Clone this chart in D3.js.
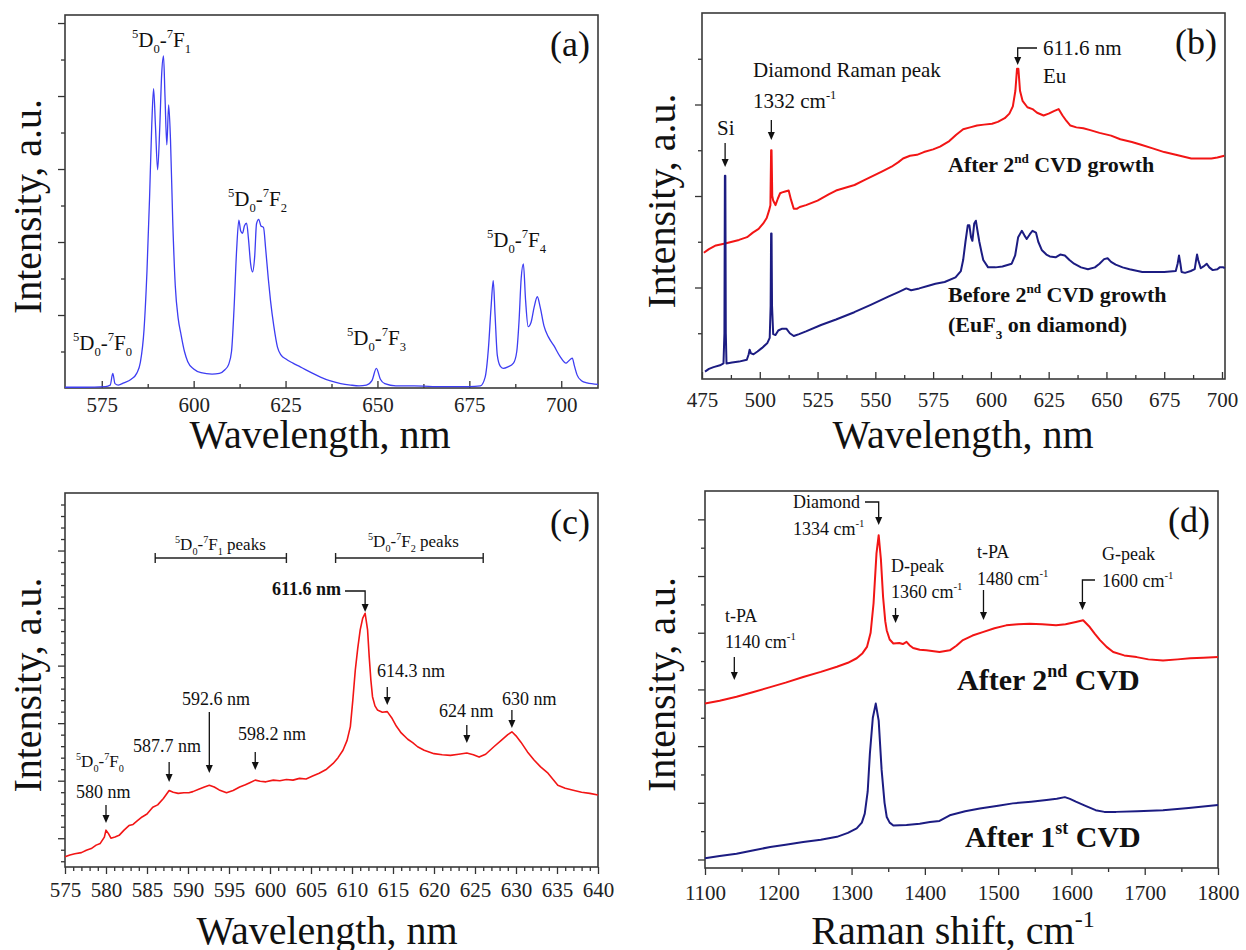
<!DOCTYPE html>
<html>
<head>
<meta charset="utf-8">
<script src="https://cdn.jsdelivr.net/npm/d3@7"></script>
<style>
  body { margin: 0; background: #fff; }
  text { white-space: pre; }
</style>
</head>
<body>
<svg id="chart" width="1246" height="950"></svg>
<script>
// Eu luminescence / Raman figure, four panels

// (a) EuF3 PL spectrum
const aWave = [565, 570, 576, 577.3, 578, 578.6, 579.5, 581, 583, 584.5, 585.5, 586.5, 587.3, 588, 588.6, 589.1, 589.6, 590.2, 590.8, 591.3, 591.8, 592.2, 592.7, 593.2, 593.7, 594.3, 595, 595.8, 596.5, 597.5, 598.4, 600, 602, 605, 607, 608.5, 609.5, 610.3, 611, 611.7, 612.3, 612.8, 613.3, 613.8, 614.4, 614.9, 615.5, 616, 616.6, 617.1, 617.7, 618.3, 619, 619.6, 620.3, 620.9, 621.8, 622.8, 623.8, 625, 627, 629, 632, 634.5, 637, 640, 642.7, 645, 647, 648.5, 649.7, 650.8, 652, 655, 660, 665, 670, 675, 678, 679.3, 680.2, 680.9, 681.5, 682, 682.6, 683.4, 684.2, 685.5, 687, 687.9, 688.5, 689.1, 689.7, 690.3, 691, 691.8, 692.6, 693.5, 694.3, 695.3, 696.5, 698, 699.7, 701.3, 702, 703, 703.6, 704.3, 705.5, 707, 710];
const aInt = [0.01, 0.01, 0.02, 0.04, 0.2, 0.06, 0.04, 0.07, 0.12, 0.2, 0.35, 0.8, 1.6, 2.6, 3.6, 4.1, 3.6, 2.99, 3.6, 4.3, 4.55, 4.0, 3.33, 3.88, 3.4, 2.3, 1.4, 0.95, 0.75, 0.5, 0.36, 0.26, 0.21, 0.19, 0.2, 0.25, 0.32, 0.5, 1.1, 1.9, 2.3, 2.15, 2.12, 2.22, 2.26, 2.05, 1.7, 1.59, 1.8, 2.25, 2.31, 2.22, 2.2, 1.9, 1.5, 1.2, 0.85, 0.56, 0.45, 0.4, 0.34, 0.29, 0.21, 0.15, 0.1, 0.06, 0.04, 0.03, 0.04, 0.1, 0.27, 0.12, 0.06, 0.03, 0.03, 0.02, 0.02, 0.02, 0.03, 0.15, 0.55, 1.1, 1.47, 1.0, 0.45, 0.3, 0.27, 0.29, 0.34, 0.5, 0.9, 1.5, 1.7, 1.2, 0.84, 0.9, 1.1, 1.25, 1.1, 0.85, 0.7, 0.58, 0.43, 0.34, 0.37, 0.41, 0.3, 0.18, 0.1, 0.07, 0.05];

// (b) after 2nd CVD growth (red)
const bAfterWave = [475.8, 478, 481, 485, 488, 491, 494.5, 497, 499.5, 501.5, 503, 504, 504.6, 504.9, 505.1, 505.4, 505.8, 506.8, 507.8, 508.8, 509.7, 511, 512.5, 513.5, 514.7, 516, 517.3, 520, 525, 530, 533, 537, 541, 545, 549, 553, 557, 560, 562, 565, 568, 571, 575, 578, 582, 585, 588, 591, 594, 597, 600.5, 603, 606, 608, 609.5, 610.6, 611.3, 611.9, 612.6, 613.7, 615.8, 618, 620, 622.8, 625, 627.5, 629.3, 631, 632.7, 634.4, 637, 640, 643, 647, 652, 656, 661, 665, 670, 675, 680, 686.7, 690, 695.4, 698, 701];
const bAfterInt = [1.38, 1.42, 1.46, 1.48, 1.5, 1.52, 1.55, 1.6, 1.64, 1.7, 1.76, 1.84, 1.9, 2.5, 2.5, 2.0, 1.95, 1.9, 1.97, 2.03, 2.04, 2.05, 2.06, 1.96, 1.86, 1.86, 1.88, 1.9, 1.95, 2.02, 2.06, 2.09, 2.12, 2.17, 2.22, 2.27, 2.32, 2.37, 2.41, 2.44, 2.45, 2.48, 2.51, 2.54, 2.6, 2.67, 2.73, 2.75, 2.77, 2.78, 2.79, 2.81, 2.85, 2.9, 2.98, 3.15, 3.39, 3.39, 3.15, 3.04, 2.97, 2.95, 2.91, 2.88, 2.9, 2.93, 2.95, 2.88, 2.82, 2.77, 2.75, 2.74, 2.72, 2.69, 2.66, 2.62, 2.59, 2.56, 2.52, 2.48, 2.45, 2.41, 2.41, 2.41, 2.42, 2.44];

// (b) before 2nd CVD growth, EuF3 on diamond (navy)
const bBeforeWave = [476.3, 478, 480, 482.8, 484.3, 484.7, 484.9, 485.1, 485.3, 485.6, 488, 491, 494.4, 495.2, 495.6, 496.2, 497.3, 499, 501, 503.2, 504.3, 504.7, 504.9, 505.1, 505.3, 505.8, 506.8, 508, 509.7, 511.5, 513, 514.7, 517, 520, 526.5, 533, 540.9, 548, 555.6, 560, 563.4, 565.5, 569, 573, 576, 580, 584.7, 587, 588, 589, 590, 590.7, 591.4, 592, 592.8, 593.5, 594.2, 595, 596, 596.7, 598.8, 602, 605, 609, 610.5, 611.8, 613.4, 614.5, 615.5, 616.8, 618, 619.5, 620.5, 622, 624, 625.5, 628, 630, 632, 634, 636, 639, 642, 645, 647, 649, 650.5, 652, 654, 657, 660, 665.5, 670, 675, 680, 680.8, 681.4, 682, 682.5, 684, 686.5, 688.2, 688.8, 689.2, 689.7, 690.8, 692, 693.4, 694.5, 696, 698, 699, 700.6, 701.2];
const bBeforeInt = [0.08, 0.11, 0.13, 0.15, 0.17, 0.5, 2.22, 2.22, 0.5, 0.17, 0.18, 0.19, 0.21, 0.27, 0.32, 0.28, 0.27, 0.3, 0.34, 0.39, 0.45, 0.8, 1.59, 1.59, 0.8, 0.49, 0.48, 0.53, 0.55, 0.55, 0.5, 0.47, 0.49, 0.52, 0.59, 0.65, 0.73, 0.81, 0.9, 0.95, 0.99, 0.97, 0.99, 1.02, 1.04, 1.06, 1.11, 1.18, 1.3, 1.5, 1.68, 1.68, 1.55, 1.51, 1.7, 1.73, 1.62, 1.5, 1.38, 1.3, 1.22, 1.22, 1.23, 1.26, 1.35, 1.55, 1.62, 1.57, 1.53, 1.58, 1.62, 1.6, 1.5, 1.41, 1.36, 1.34, 1.33, 1.36, 1.35, 1.3, 1.26, 1.22, 1.2, 1.22, 1.26, 1.31, 1.32, 1.28, 1.25, 1.22, 1.2, 1.17, 1.17, 1.17, 1.18, 1.26, 1.35, 1.26, 1.17, 1.16, 1.18, 1.2, 1.3, 1.36, 1.3, 1.21, 1.23, 1.26, 1.22, 1.19, 1.2, 1.22, 1.22, 1.21];

// (c) PL after 2nd CVD, zoomed
const cWave = [575, 575.6, 576.2, 577, 577.6, 578.2, 578.8, 579.3, 579.8, 580, 580.3, 580.6, 581.1, 581.6, 582.2, 582.8, 583.3, 583.8, 584.4, 585, 585.7, 586.3, 587, 587.7, 588.2, 588.8, 589.5, 590.1, 590.6, 591.3, 592, 592.6, 593.2, 593.8, 594.7, 595.5, 596.3, 597, 597.6, 598.2, 598.8, 599.5, 600.4, 601.2, 602, 602.8, 603.6, 604.4, 605.2, 606, 606.9, 607.7, 608.3, 608.9, 609.4, 609.8, 610.1, 610.4, 610.7, 611, 611.3, 611.6, 611.9, 612.1, 612.3, 612.5, 612.8, 613.1, 613.7, 614.3, 614.9, 615.4, 616, 616.8, 617.4, 618, 618.8, 619.4, 620, 621, 622, 623, 624, 624.8, 625.5, 626.3, 627.3, 628.2, 629, 629.5, 630, 630.6, 631.4, 632.2, 633, 633.9, 635.1, 636, 637.1, 638, 639, 640];
const cInt = [-0.32, -0.29, -0.27, -0.25, -0.21, -0.18, -0.12, -0.09, 0.02, 0.14, 0.08, 0.0, 0.02, 0.05, 0.14, 0.22, 0.24, 0.3, 0.37, 0.42, 0.54, 0.58, 0.69, 0.83, 0.8, 0.78, 0.79, 0.79, 0.81, 0.85, 0.89, 0.92, 0.89, 0.84, 0.79, 0.83, 0.89, 0.93, 0.97, 1.01, 0.99, 0.98, 1.01, 1.0, 1.02, 1.01, 1.04, 1.03, 1.08, 1.13, 1.2, 1.3, 1.4, 1.53, 1.7, 1.94, 2.4, 2.92, 3.3, 3.62, 3.82, 3.91, 3.62, 3.15, 2.75, 2.46, 2.3, 2.23, 2.19, 2.2, 2.08, 1.95, 1.83, 1.72, 1.66, 1.59, 1.53, 1.5, 1.47, 1.45, 1.44, 1.46, 1.48, 1.45, 1.41, 1.46, 1.59, 1.7, 1.8, 1.85, 1.78, 1.67, 1.5, 1.36, 1.24, 1.13, 0.92, 0.87, 0.83, 0.8, 0.78, 0.75];

// (d) Raman after 2nd CVD (red)
const dAfterShift = [1100, 1120, 1143, 1165, 1189, 1210, 1234, 1258, 1280, 1295, 1307, 1315, 1321, 1326, 1330, 1334, 1337, 1340, 1343, 1346, 1348, 1352, 1357, 1365, 1370, 1375, 1379, 1384, 1393, 1402, 1420, 1434, 1443, 1452, 1465, 1479, 1495, 1511, 1527, 1543, 1560, 1579, 1592, 1606, 1616, 1625, 1632, 1639, 1648, 1657, 1672, 1689, 1705, 1725, 1745, 1762, 1780, 1800];
const dAfterInt = [2.75, 2.8, 2.87, 2.95, 3.04, 3.12, 3.22, 3.31, 3.4, 3.47, 3.55, 3.64, 3.75, 4.0, 4.52, 5.4, 5.72, 5.3, 4.63, 4.2, 4.04, 3.88, 3.81, 3.82, 3.8, 3.84, 3.78, 3.73, 3.7, 3.69, 3.66, 3.69, 3.77, 3.87, 3.95, 4.01, 4.08, 4.13, 4.15, 4.16, 4.15, 4.13, 4.15, 4.19, 4.22, 4.1, 3.98, 3.87, 3.75, 3.66, 3.6, 3.57, 3.53, 3.51, 3.53, 3.55, 3.56, 3.57];

// (d) Raman after 1st CVD (navy)
const dFirstShift = [1100, 1120, 1143, 1165, 1189, 1210, 1234, 1258, 1280, 1295, 1307, 1314, 1318, 1322, 1325, 1329, 1333, 1337, 1341, 1345, 1348, 1352, 1357, 1375, 1393, 1407, 1420, 1434, 1455, 1475, 1500, 1520, 1545, 1566, 1580, 1591, 1598, 1606, 1620, 1633, 1645, 1661, 1690, 1725, 1760, 1800];
const dFirstInt = [0.02, 0.06, 0.1, 0.16, 0.22, 0.26, 0.31, 0.35, 0.4, 0.47, 0.55, 0.65, 0.81, 1.2, 1.87, 2.5, 2.75, 2.45, 1.58, 1.0, 0.75, 0.65, 0.6, 0.61, 0.63, 0.66, 0.68, 0.78, 0.85, 0.9, 0.95, 0.99, 1.02, 1.05, 1.07, 1.1, 1.07, 1.02, 0.94, 0.87, 0.84, 0.84, 0.85, 0.87, 0.91, 0.96];

// tick values
const aTicks = [575, 600, 625, 650, 675, 700];
const bTicks = [475, 500, 525, 550, 575, 600, 625, 650, 675, 700];
const cTicks = d3.range(575, 641, 5);
const dTicks = [1100, 1200, 1300, 1400, 1500, 1600, 1700, 1800];

const FONT = '"Liberation Serif", "Times New Roman", serif';
const RED = '#f21515';
const NAVY = '#1c1c82';
const BLUE = '#3d3df2';
const INK = '#111';

const svg = d3.select('#chart');

// text with sub/superscripts; parts are strings or [str, 'sup'|'sub']
function rich(x, y, parts, size, opts) {
    opts = opts || {};
    const t = svg.append('text')
        .attr('x', x)
        .attr('y', y)
        .attr('font-family', FONT)
        .attr('font-size', size)
        .attr('font-weight', opts.bold ? 'bold' : 'normal')
        .attr('text-anchor', opts.anchor || 'start')
        .attr('fill', INK);
    if (opts.rotate) t.attr('transform', `rotate(-90, ${x}, ${y})`);
    let shift = 0;
    parts.forEach(p => {
        const str = Array.isArray(p) ? p[0] : p;
        const kind = Array.isArray(p) ? p[1] : '';
        let target = 0, fs = size;
        if (kind === 'sup') { target = -0.42 * size; fs = size * 0.6; }
        if (kind === 'sub') { target = 0.3 * size; fs = size * 0.6; }
        t.append('tspan')
            .attr('dy', target - shift)
            .attr('font-size', fs)
            .text(str);
        shift = target;
    });
    return t;
}

function arrowDown(x, y1, y2) {
    svg.append('line')
        .attr('x1', x).attr('x2', x)
        .attr('y1', y1).attr('y2', y2 - 6)
        .attr('stroke', INK).attr('stroke-width', 1.3);
    svg.append('path')
        .attr('d', `M${x - 3.5},${y2 - 8} L${x + 3.5},${y2 - 8} L${x},${y2} Z`)
        .attr('fill', INK);
}

// bent arrow: horizontal from x0 to x, then down to y2
function arrowBent(x0, y0, x, y2) {
    svg.append('path')
        .attr('d', `M${x0},${y0} H${x} V${y2 - 6}`)
        .attr('fill', 'none')
        .attr('stroke', INK).attr('stroke-width', 1.3);
    svg.append('path')
        .attr('d', `M${x - 3.5},${y2 - 8} L${x + 3.5},${y2 - 8} L${x},${y2} Z`)
        .attr('fill', INK);
}

function bracket(x1, x2, y) {
    svg.append('path')
        .attr('d', `M${x1},${y - 5} V${y + 5} M${x1},${y} H${x2} M${x2},${y - 5} V${y + 5}`)
        .attr('fill', 'none')
        .attr('stroke', '#222').attr('stroke-width', 1.4);
}

/**
 * Build one panel: scales, frame and ticks
 */
function panel(cfg) {
    const x = d3.scaleLinear().domain(cfg.xDomain).range([cfg.left, cfg.right]);
    const y = d3.scaleLinear().domain(cfg.yDomain).range([cfg.bottom, cfg.top]);
    const g = svg.append('g');

    const xDir = cfg.xInward ? -1 : 1;
    const xMajor = d3.axisBottom(x).tickValues(cfg.xTicks).tickSize(7 * xDir)
        .tickPadding(cfg.xPad).tickFormat(d3.format('d'));
    const xMinor = d3.axisBottom(x).tickValues(cfg.xMinor).tickSize(4 * xDir).tickFormat('');
    const yMajor = d3.axisLeft(y).tickValues(cfg.yTicks).tickSize(7).tickFormat('');
    const yMinor = d3.axisLeft(y).tickValues(cfg.yMinor).tickSize(4).tickFormat('');

    [[xMajor, 'x'], [xMinor, 'x'], [yMajor, 'y'], [yMinor, 'y']].forEach(([ax, k]) => {
        const a = g.append('g')
            .attr('transform', k === 'x' ? `translate(0,${cfg.bottom})` : `translate(${cfg.left},0)`)
            .call(ax);
        a.select('.domain').remove();
        a.selectAll('line').attr('stroke', '#333').attr('stroke-width', 1.3);
        a.selectAll('text')
            .attr('font-family', FONT)
            .attr('font-size', 21)
            .attr('fill', '#222');
    });

    g.append('rect')
        .attr('x', cfg.left).attr('y', cfg.top)
        .attr('width', cfg.right - cfg.left)
        .attr('height', cfg.bottom - cfg.top)
        .attr('fill', 'none')
        .attr('stroke', '#3a3a3a')
        .attr('stroke-width', 1.6);

    // axis titles
    rich(cfg.xTitleX, cfg.xTitleY, cfg.xTitle, 40, { anchor: 'middle' });
    rich(cfg.yTitleX, (cfg.top + cfg.bottom) / 2 + 5, ['Intensity, a.u.'], 40, { anchor: 'middle', rotate: true });

    // panel letter
    svg.append('text')
        .attr('x', cfg.right - 8).attr('y', cfg.top + 41)
        .attr('text-anchor', 'end')
        .attr('font-family', FONT).attr('font-size', 36)
        .attr('fill', INK)
        .text(cfg.letter);

    return { x, y };
}

function drawLine(sc, xs, ys, color, width, curve) {
    const pts = xs.map((d, i) => [d, ys[i]]);
    svg.append('path')
        .datum(pts)
        .attr('fill', 'none')
        .attr('stroke', color)
        .attr('stroke-width', width)
        .attr('stroke-linejoin', 'round')
        .attr('d', d3.line()
            .x(d => sc.x(d[0]))
            .y(d => sc.y(d[1]))
            .curve(curve || d3.curveLinear));
}

// ---------- (a) ----------
const A = panel({
    left: 65, right: 598, top: 15, bottom: 388,
    xDomain: [565, 710], yDomain: [0, 5.11],
    xTicks: aTicks, xMinor: d3.range(562.5, 710, 12.5).filter(v => v > 565 && !aTicks.includes(v)),
    yTicks: [1, 2, 3, 4, 5], yMinor: [0.5, 1.5, 2.5, 3.5, 4.5],
    xInward: true, xPad: 9,
    xTitle: ['Wavelength, nm'], xTitleX: 320, xTitleY: 448,
    yTitleX: 41, letter: '(a)'
});
drawLine(A, aWave, aInt, BLUE, 1.3, d3.curveMonotoneX);

const tr = n => [['5', 'sup'], 'D', ['0', 'sub'], '-', ['7', 'sup'], 'F', [n, 'sub']];
rich(132, 47, tr('1'), 21);
rich(228, 206, tr('2'), 21);
rich(73, 350, tr('0'), 21);
rich(347, 345, tr('3'), 21);
rich(487, 247, tr('4'), 21);

// ---------- (b) ----------
const B = panel({
    left: 702, right: 1225, top: 13, bottom: 379,
    xDomain: [475, 701.3], yDomain: [0, 4],
    xTicks: bTicks, xMinor: d3.range(487.5, 700, 25),
    yTicks: [1, 2, 3], yMinor: [0.5, 1.5, 2.5, 3.5],
    xInward: true, xPad: 13,
    xTitle: ['Wavelength, nm'], xTitleX: 963, xTitleY: 448,
    yTitleX: 675, letter: '(b)'
});
drawLine(B, bAfterWave, bAfterInt, RED, 2);
drawLine(B, bBeforeWave, bBeforeInt, NAVY, 2);

rich(717, 135, ['Si'], 21);
arrowDown(B.x(485), 143, 167);
rich(753, 77, ['Diamond Raman peak'], 21);
rich(753, 108, ['1332 cm', ['-1', 'sup']], 21);
arrowDown(B.x(505), 120, 140);
rich(1043, 55, ['611.6 nm'], 21);
rich(1043, 83, ['Eu'], 21);
arrowBent(1037, 48, B.x(611.6), 65);
rich(948, 172, ['After 2', ['nd', 'sup'], ' CVD growth'], 22, { bold: true });
rich(948, 302, ['Before 2', ['nd', 'sup'], ' CVD growth'], 22, { bold: true });
rich(948, 332, ['(EuF', ['3', 'sub'], ' on diamond)'], 22, { bold: true });

// ---------- (c) ----------
const C = panel({
    left: 65, right: 598, top: 493, bottom: 867,
    xDomain: [575, 640], yDomain: [-0.5, 6],
    xTicks: cTicks, xMinor: d3.range(576, 640, 1).filter(v => v % 5 !== 0),
    yTicks: [0, 1, 2, 3, 4, 5], yMinor: d3.range(-0.4, 5.9, 0.2).filter(v => Math.abs(v - Math.round(v)) > 0.01),
    xInward: false, xPad: 8,
    xTitle: ['Wavelength, nm'], xTitleX: 327, xTitleY: 944,
    yTitleX: 41, letter: '(c)'
});
drawLine(C, cWave, cInt, RED, 1.6);

const pk = n => [['5', 'sup'], 'D', ['0', 'sub'], '-', ['7', 'sup'], 'F', [n, 'sub'], ' peaks'];
rich(175, 550, pk('1'), 17);
bracket(C.x(586), C.x(602), 558);
rich(368, 547, pk('2'), 17);
bracket(C.x(608), C.x(626), 558);

rich(272, 595, ['611.6 nm'], 18, { bold: true });
arrowBent(345, 591, C.x(611.6), 612);
rich(377, 677, ['614.3 nm'], 18);
arrowDown(C.x(614.3), 687, 705);
rich(439, 717, ['624 nm'], 18);
arrowDown(C.x(624), 725, 743);
rich(502, 705, ['630 nm'], 18);
arrowDown(C.x(629.5), 710, 728);
rich(238, 740, ['598.2 nm'], 18);
arrowDown(C.x(598.2), 752, 770);
rich(182, 705, ['592.6 nm'], 18);
arrowDown(C.x(592.6), 712, 773);
rich(133, 752, ['587.7 nm'], 18);
arrowDown(C.x(587.7), 762, 782);
rich(76, 767, tr('0'), 17);
rich(76, 798, ['580 nm'], 18);
arrowDown(C.x(580), 805, 823);

// ---------- (d) ----------
const D = panel({
    left: 705, right: 1218, top: 491, bottom: 868,
    xDomain: [1100, 1800], yDomain: [-0.15, 6.5],
    xTicks: dTicks, xMinor: d3.range(1150, 1800, 100),
    yTicks: [0, 1, 2, 3, 4, 5, 6], yMinor: [0.5, 1.5, 2.5, 3.5, 4.5, 5.5],
    xInward: false, xPad: 10,
    xTitle: ['Raman shift, cm', ['-1', 'sup']], xTitleX: 953, xTitleY: 944,
    yTitleX: 675, letter: '(d)'
});
drawLine(D, dAfterShift, dAfterInt, RED, 2);
drawLine(D, dFirstShift, dFirstInt, NAVY, 2);

rich(793, 508, ['Diamond'], 18);
rich(793, 535, ['1334 cm', ['-1', 'sup']], 18);
arrowBent(865, 502, D.x(1337), 525);
rich(891, 572, ['D-peak'], 18);
rich(891, 598, ['1360 cm', ['-1', 'sup']], 18);
arrowDown(D.x(1360), 608, 623);
rich(725, 622, ['t-PA'], 18);
rich(725, 648, ['1140 cm', ['-1', 'sup']], 18);
arrowDown(D.x(1140), 657, 680);
rich(977, 558, ['t-PA'], 18);
rich(977, 585, ['1480 cm', ['-1', 'sup']], 18);
arrowDown(D.x(1480), 590, 620);
rich(1102, 560, ['G-peak'], 18);
rich(1102, 587, ['1600 cm', ['-1', 'sup']], 18);
arrowBent(1095, 580, D.x(1615), 610);
rich(957, 690, ['After 2', ['nd', 'sup'], ' CVD'], 30, { bold: true });
rich(965, 847, ['After 1', ['st', 'sup'], ' CVD'], 30, { bold: true });
</script>
</body>
</html>
